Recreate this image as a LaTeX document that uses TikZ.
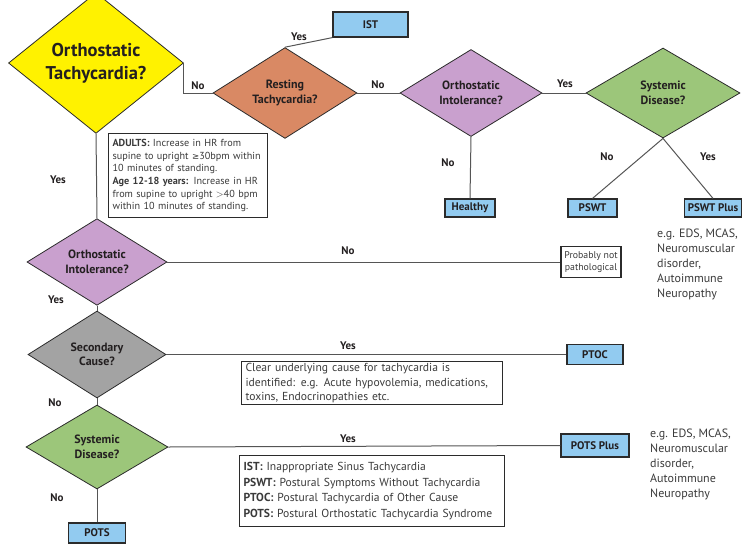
\documentclass[tikz,border=0pt]{standalone}
\usepackage{fontspec}
\setmainfont{PT Sans}
\newfontfamily\symfont{DejaVu Sans}
\usetikzlibrary{shapes.geometric}
\definecolor{cyel}{HTML}{FFF200}
\definecolor{corange}{HTML}{D98964}
\definecolor{cpurple}{HTML}{C9A0CE}
\definecolor{cgreen}{HTML}{9CC67A}
\definecolor{cgrey}{HTML}{A3A3A3}
\definecolor{cblue}{HTML}{92CBF0}
\definecolor{cdark}{HTML}{2B2B2B}
\definecolor{cline}{HTML}{555555}
\definecolor{ctext}{HTML}{231F20}
\definecolor{cbody}{HTML}{3A3A3A}
\begin{document}
\begin{tikzpicture}[x=1pt,y=-1pt,
  dia/.style={diamond, draw=cdark, line width=0.8pt, inner sep=0pt, align=center, text=ctext,
    font=\bfseries\fontsize{12}{14.5}\selectfont},
  dsize/.style 2 args={minimum width=#1 pt, minimum height=#2 pt},
  outbox/.style={rectangle, draw=cdark, line width=1.2pt, fill=cblue, inner sep=0pt, text=ctext,
    font=\bfseries\fontsize{11}{13}\selectfont},
  bsize/.style 2 args={minimum width=#1 pt, minimum height=#2 pt},
  conn/.style={draw=cline, line width=1pt},
  lab/.style={text=ctext, font=\bfseries\fontsize{11}{13}\selectfont},
  notebox/.style={rectangle, draw=cdark, line width=1.1pt, anchor=north west, align=left, text=cbody,
    inner xsep=4pt, inner ysep=0pt},
  eg/.style={anchor=north west, align=left, text=cbody, inner sep=0pt,
    font=\fontsize{12}{15}\selectfont}
]
\useasboundingbox (0,0) rectangle (742,544);

% decision diamonds
\node[dia, dsize={175}{114}, fill=cyel, font=\bfseries\fontsize{18.5}{23}\selectfont] (ot) at (96,63) {Orthostatic\\Tachycardia?};
\node[dia, dsize={144}{83}, fill=corange] (rt) at (285,93) {Resting\\Tachycardia?};
\node[dia, dsize={142}{87}, fill=cpurple] (oia) at (471,93) {Orthostatic\\Intolerance?};
\node[dia, dsize={154}{90}, fill=cgreen] (sda) at (663,93) {Systemic\\Disease?};
\node[dia, dsize={140}{80}, fill=cpurple] (oib) at (97,262) {Orthostatic\\Intolerance?};
\node[dia, dsize={138}{87}, fill=cgrey] (sc) at (97,354.5) {Secondary\\Cause?};
\node[dia, dsize={142}{84}, fill=cgreen] (sdb) at (97,447) {Systemic\\Disease?};

% outcome boxes
\node[outbox, bsize={75}{25}] (ist) at (370.5,24.5) {IST};
\node[outbox, bsize={50}{18}] (healthy) at (470,208) {Healthy};
\node[outbox, bsize={49}{18}] (pswt) at (592.5,208) {PSWT};
\node[outbox, bsize={57}{18}] (pswtp) at (713,208) {PSWT Plus};
\node[outbox, bsize={56}{20}] (ptoc) at (595,354.5) {PTOC};
\node[outbox, bsize={68}{23}] (potsp) at (595,445.5) {POTS Plus};
\node[outbox, bsize={57}{20}] (pots) at (97,533) {POTS};

% note boxes
\node[notebox, minimum width=159pt, minimum height=84pt, text width=151pt,
  font=\fontsize{10.2}{12.7}\selectfont] (adults) at (108,133)
  {\textbf{ADULTS:} Increase in HR from\\
   supine to upright {\symfont\fontsize{8.6}{12}\selectfont ≥}30bpm within\\
   10 minutes of standing.\\
   \textbf{Age 12-18 years:} Increase in HR\\
   from supine to upright $>$40 bpm\\
   within 10 minutes of standing.};
\node[rectangle, draw=cdark, line width=1.1pt, align=center, text=cbody, inner sep=0pt,
  minimum width=60pt, minimum height=31pt, font=\fontsize{9.8}{11.5}\selectfont] (prob) at (591,262)
  {Probably not\\pathological};
\node[notebox, minimum width=261pt, minimum height=43pt, text width=253pt,
  font=\fontsize{11.6}{14.3}\selectfont] (clear) at (241,361)
  {Clear underlying cause for tachycardia is\\
   identified: e.g. Acute hypovolemia, medications,\\
   toxins, Endocrinopathies etc.};
\node[notebox, minimum width=265pt, minimum height=71pt, text width=257pt,
  font=\fontsize{11.6}{15.5}\selectfont] (legend) at (239,455)
  {\textbf{IST:} Inappropriate Sinus Tachycardia\\
   \textbf{PSWT:} Postural Symptoms Without Tachycardia\\
   \textbf{PTOC:} Postural Tachycardia of Other Cause\\
   \textbf{POTS:} Postural Orthostatic Tachycardia Syndrome};

% example texts
\node[eg] (ega) at (657,229) {e.g. EDS, MCAS,\\Neuromuscular\\disorder,\\Autoimmune\\Neuropathy};
\node[eg] (egb) at (650,429) {e.g. EDS, MCAS,\\Neuromuscular\\disorder,\\Autoimmune\\Neuropathy};

% connectors
\begin{scope}[conn]
\draw (ot.east) |- (rt.west);
\draw (rt.north) -- (ist.south west);
\draw (rt.east) -- (oia.west);
\draw (oia.east) -- (sda.west);
\draw (oia.south) -- (healthy.north);
\draw (sda.south) -- (pswt.north);
\draw (sda.south) -- (pswtp.north);
\draw (ot.south) -- (oib.north);
\draw (oib.east) -- (prob.west);
\draw (oib.south) -- (sc.north);
\draw (sc.east) -- (ptoc.west);
\draw (sc.south) -- (sdb.north);
\draw (sdb.east) -- (potsp.west);
\draw (sdb.south) -- (pots.north);
\end{scope}

% connector labels
\node[lab] (l1) at (198,86) {No};
\node[lab] (l2) at (299,37) {Yes};
\node[lab] (l3) at (378,85) {No};
\node[lab] (l4) at (565,84) {Yes};
\node[lab] (l5) at (448,163) {No};
\node[lab] (l6) at (607,157) {No};
\node[lab] (l7) at (708,157) {Yes};
\node[lab] (l8) at (58,180) {Yes};
\node[lab] (l9) at (348,251) {No};
\node[lab] (l10) at (56,300) {Yes};
\node[lab] (l11) at (348,346) {Yes};
\node[lab] (l12) at (55,403) {No};
\node[lab] (l13) at (348,439) {Yes};
\node[lab] (l14) at (57,498) {No};
\end{tikzpicture}
\end{document}
